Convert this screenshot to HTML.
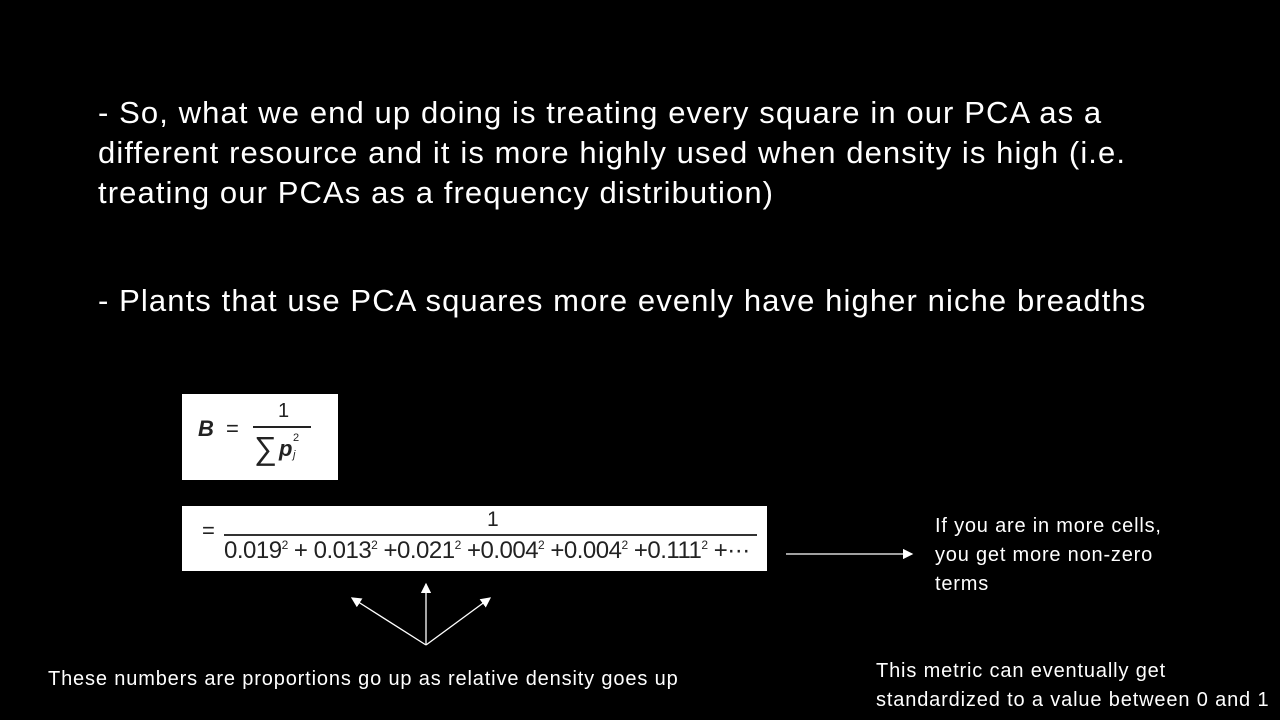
<!DOCTYPE html>
<html><head><meta charset="utf-8"><style>
body{margin:0;width:1280px;height:720px;background:#000;overflow:hidden;position:relative;font-family:"Liberation Sans",sans-serif;color:#fff}
.t{position:absolute;white-space:nowrap}
.big{font-size:31px;line-height:40px;letter-spacing:1.1px}
.sm{font-size:20px;line-height:29px;letter-spacing:0.8px}
.box{position:absolute;background:#fff;color:#222;font-family:"Liberation Sans",sans-serif}
sup{font-size:12px}
</style></head><body>
<div class="t big" style="left:98px;top:93px">- So, what we end up doing is treating every square in our PCA as a<br>different resource and it is more highly used when density is high (i.e.<br>treating our PCAs as a frequency distribution)</div>
<div class="t big" style="left:98px;top:281px">- Plants that use PCA squares more evenly have higher niche breadths</div>

<div class="box" style="left:182px;top:394px;width:156px;height:86px">
 <span class="t" style="left:16px;top:22px;font-size:22px;font-style:italic;font-weight:bold">B</span>
 <span class="t" style="left:44px;top:22px;font-size:22px">=</span>
 <span class="t" style="left:96px;top:6px;font-size:20px">1</span>
 <div style="position:absolute;left:71px;top:32px;width:58px;height:1.5px;background:#222"></div>
 <span class="t" style="left:72px;top:36px;font-size:32px;line-height:36px">∑</span>
 <span class="t" style="left:97px;top:42px;font-size:22px;font-style:italic;font-weight:bold">p</span>
 <span class="t" style="left:111px;top:38px;font-size:11px">2</span>
 <span class="t" style="left:111px;top:55px;font-size:11px;font-style:italic">j</span>
</div>

<div class="box" style="left:182px;top:506px;width:585px;height:65px">
 <span class="t" style="left:20px;top:12px;font-size:22px">=</span>
 <span class="t" style="left:305px;top:2px;font-size:21px">1</span>
 <div style="position:absolute;left:42px;top:28px;width:533px;height:1.5px;background:#333"></div>
 <span class="t" style="left:42px;top:31px;font-size:24px;letter-spacing:-0.5px">0.019<sup>2</sup> + 0.013<sup>2</sup> +0.021<sup>2</sup> +0.004<sup>2</sup> +0.004<sup>2</sup> +0.111<sup>2</sup> +···</span>
</div>

<svg style="position:absolute;left:0;top:0" width="1280" height="720">
 <defs><marker id="ah" markerWidth="8" markerHeight="8" refX="7" refY="4" orient="auto"><path d="M0,0 L8,4 L0,8 z" fill="#fff"/></marker></defs>
 <g stroke="#fff" stroke-width="1.3" marker-end="url(#ah)">
  <line x1="426" y1="645" x2="352" y2="598"/>
  <line x1="426" y1="645" x2="426" y2="584"/>
  <line x1="426" y1="645" x2="490" y2="598"/>
  <line x1="786" y1="554" x2="912" y2="554"/>
 </g>
</svg>

<div class="t sm" style="left:935px;top:512px">If you are in more cells,<br>you get more non-zero<br>terms</div>
<div class="t sm" style="left:48px;top:665px;letter-spacing:0.85px">These numbers are proportions go up as relative density goes up</div>
<div class="t sm" style="left:876px;top:657px;letter-spacing:0.85px">This metric can eventually get<br>standardized to a value between 0 and 1</div>
</body></html>
